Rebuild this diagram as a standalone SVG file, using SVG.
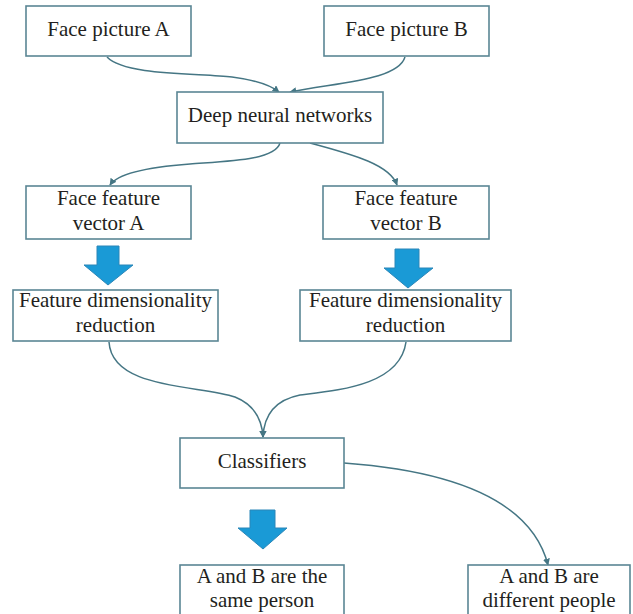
<svg xmlns="http://www.w3.org/2000/svg" width="633" height="614" viewBox="0 0 633 614">
  <defs>
    <style>
      .box { fill: #ffffff; stroke: #5a8694; stroke-width: 1.6; }
      .lbl { font-family: 'Liberation Serif', 'DejaVu Serif', serif; font-size: 21px; fill: #231f20; text-anchor: middle; }
      .conn { fill: none; stroke: #457684; stroke-width: 1.5; }
      .blue { fill: #1a9ad6; stroke: #2a86b8; stroke-width: 1; }
    </style>
    <marker id="ah" viewBox="0 0 10 10" refX="9" refY="5" markerWidth="7" markerHeight="7" markerUnits="userSpaceOnUse" orient="auto">
      <path d="M0,0 L10,5 L0,10 Z" fill="#457684"/>
    </marker>
  </defs>
  <rect width="633" height="614" fill="#ffffff"/>

  <g id="connectors">
    <path class="conn" d="M107,57 C125,76 200,73 232,77 C255,80 270,85 279,92" marker-end="url(#ah)"/>
    <path class="conn" d="M405,57 C398,80 340,82 290,92" marker-end="url(#ah)"/>
    <path class="conn" d="M280,143 C275,160 230,161 190,164 C150,167 118,173 110,185" marker-end="url(#ah)"/>
    <path class="conn" d="M310,143 C355,155 390,165 397,185" marker-end="url(#ah)"/>
    <path class="conn" d="M109,342 C112,390 200,385 235,397 C255,405 262,420 263,437" marker-end="url(#ah)"/>
    <path class="conn" d="M406,342 C400,385 340,390 300,395 C275,400 264,415 263,437" marker-end="url(#ah)"/>
    <path class="conn" d="M344,463 C440,470 530,495 548,565" marker-end="url(#ah)"/>
  </g>

  <g id="blue-arrows">
    <path class="blue" d="M97,246 L119,246 L119,265 L133,265 L108,285 L84,265 L97,265 Z"/>
    <path class="blue" d="M395,249 L419,249 L419,268 L433,268 L408,288 L384,268 L395,268 Z"/>
    <path class="blue" d="M250,510 L275,510 L275,528 L287,528 L263,549 L238,528 L250,528 Z"/>
  </g>

  <g id="face-a">
    <rect class="box" x="26" y="6" width="165" height="50"/>
    <text class="lbl" font-family="Liberation Serif, DejaVu Serif, serif" x="108.5" y="36">Face picture A</text>
  </g>
  <g id="face-b">
    <rect class="box" x="324" y="6" width="165" height="50"/>
    <text class="lbl" font-family="Liberation Serif, DejaVu Serif, serif" x="406.5" y="36">Face picture B</text>
  </g>
  <g id="dnn">
    <rect class="box" x="177" y="92" width="206" height="51"/>
    <text class="lbl" font-family="Liberation Serif, DejaVu Serif, serif" x="280" y="122">Deep neural networks</text>
  </g>
  <g id="ffv-a">
    <rect class="box" x="26" y="186" width="165" height="53"/>
    <text class="lbl" font-family="Liberation Serif, DejaVu Serif, serif" x="108.5" y="205">Face feature</text>
    <text class="lbl" font-family="Liberation Serif, DejaVu Serif, serif" x="108.5" y="230">vector A</text>
  </g>
  <g id="ffv-b">
    <rect class="box" x="323" y="186" width="166" height="53"/>
    <text class="lbl" font-family="Liberation Serif, DejaVu Serif, serif" x="406" y="205">Face feature</text>
    <text class="lbl" font-family="Liberation Serif, DejaVu Serif, serif" x="406" y="230">vector B</text>
  </g>
  <g id="fdr-a">
    <rect class="box" x="13" y="290" width="205" height="51"/>
    <text class="lbl" font-family="Liberation Serif, DejaVu Serif, serif" x="115.5" y="307">Feature dimensionality</text>
    <text class="lbl" font-family="Liberation Serif, DejaVu Serif, serif" x="115.5" y="332">reduction</text>
  </g>
  <g id="fdr-b">
    <rect class="box" x="300" y="290" width="211" height="51"/>
    <text class="lbl" font-family="Liberation Serif, DejaVu Serif, serif" x="405.5" y="307">Feature dimensionality</text>
    <text class="lbl" font-family="Liberation Serif, DejaVu Serif, serif" x="405.5" y="332">reduction</text>
  </g>
  <g id="classifiers">
    <rect class="box" x="180" y="438" width="164" height="50"/>
    <text class="lbl" font-family="Liberation Serif, DejaVu Serif, serif" x="262" y="468">Classifiers</text>
  </g>
  <g id="same">
    <rect class="box" x="180" y="565" width="164" height="60"/>
    <text class="lbl" font-family="Liberation Serif, DejaVu Serif, serif" x="262" y="583">A and B are the</text>
    <text class="lbl" font-family="Liberation Serif, DejaVu Serif, serif" x="262" y="607">same person</text>
  </g>
  <g id="different">
    <rect class="box" x="468" y="565" width="162" height="60"/>
    <text class="lbl" font-family="Liberation Serif, DejaVu Serif, serif" x="549" y="583">A and B are</text>
    <text class="lbl" font-family="Liberation Serif, DejaVu Serif, serif" x="549" y="607">different people</text>
  </g>
</svg>
